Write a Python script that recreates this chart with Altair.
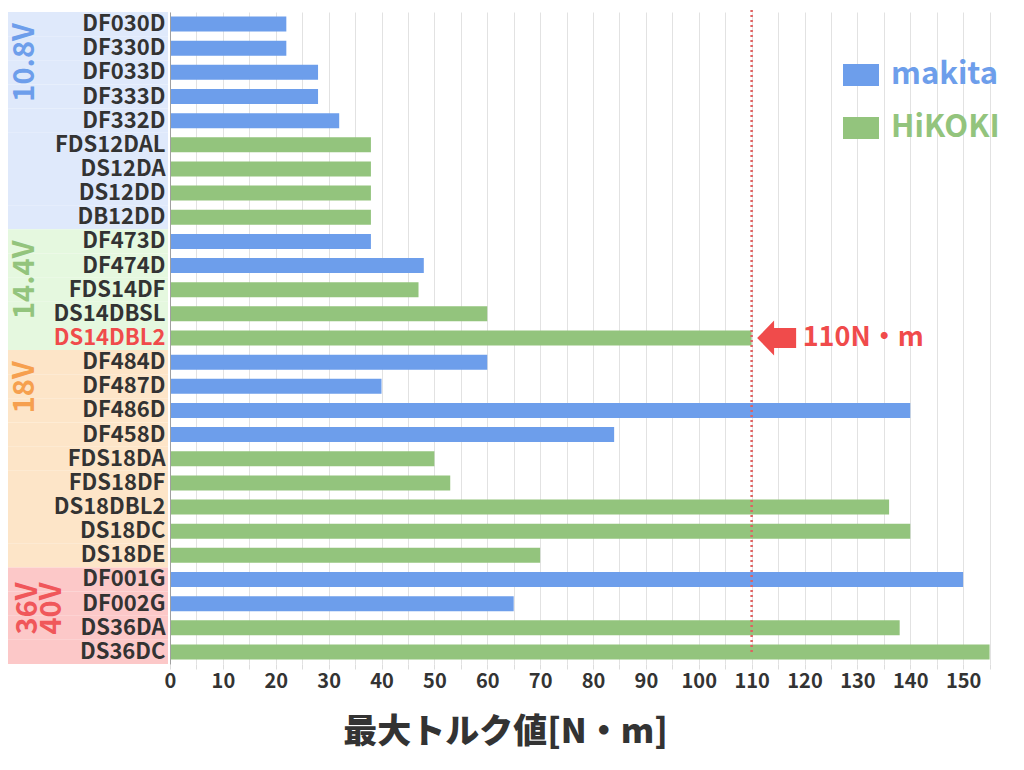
import altair as alt
import pandas as pd

models = ["DF030D", "DF330D", "DF033D", "DF333D", "DF332D", "FDS12DAL", "DS12DA", "DS12DD", "DB12DD",
          "DF473D", "DF474D", "FDS14DF", "DS14DBSL", "DS14DBL2",
          "DF484D", "DF487D", "DF486D", "DF458D", "FDS18DA", "FDS18DF", "DS18DBL2", "DS18DC", "DS18DE",
          "DF001G", "DF002G", "DS36DA", "DS36DC"]
makers = ["makita", "makita", "makita", "makita", "makita", "HiKOKI", "HiKOKI", "HiKOKI", "HiKOKI",
          "makita", "makita", "HiKOKI", "HiKOKI", "HiKOKI",
          "makita", "makita", "makita", "makita", "HiKOKI", "HiKOKI", "HiKOKI", "HiKOKI", "HiKOKI",
          "makita", "makita", "HiKOKI", "HiKOKI"]
torque = [22, 22, 28, 28, 32, 38, 38, 38, 38,
          38, 48, 47, 60, 110,
          60, 40, 140, 84, 50, 53, 136, 140, 70,
          150, 65, 138, 155]
voltage = ["10.8V", "10.8V", "10.8V", "10.8V", "10.8V", "10.8V", "10.8V", "10.8V", "10.8V",
           "14.4V", "14.4V", "14.4V", "14.4V", "14.4V",
           "18V", "18V", "18V", "18V", "18V", "18V", "18V", "18V", "18V",
           "36V\n40V", "36V\n40V", "36V\n40V", "36V\n40V"]

group_names = ["10.8V", "14.4V", "18V", "36V\n40V"]
group_bg = ["#dfe9fb", "#e5f8df", "#fde5c8", "#fcc8c8"]
group_fg = ["#6d9eeb", "#93c47d", "#f6a04f", "#f0575a"]
maker_names = ["makita", "HiKOKI"]
maker_colors = ["#6d9eeb", "#93c47d"]

highlight_model = "DS14DBL2"
ref_value = 110
ref_label = "110N・m"
tick_values = [0, 5, 10, 15, 20, 25, 30, 35, 40, 45, 50, 55, 60, 65, 70, 75, 80,
               85, 90, 95, 100, 105, 110, 115, 120, 125, 130, 135, 140, 145, 150, 155, 160]

FONT = "Noto Sans CJK JP"
RED = "#f04b4b"

df = pd.DataFrame({"model": models, "maker": makers, "torque": torque, "vgroup": voltage})
gdf = df.groupby("vgroup", sort=False).first().reset_index()[["vgroup", "model"]]
gdf = gdf.rename(columns={"vgroup": "glabel"})
ref_df = pd.DataFrame({"torque": [ref_value], "model": [highlight_model], "label": [ref_label]})

y_axis = alt.Axis(
    title=None, labelFont=FONT, labelFontSize=22, labelFontWeight="bold",
    labelColor={"condition": {"test": f"datum.value == '{highlight_model}'", "value": RED}, "value": "#333333"},
    labelPadding=5, ticks=False, domain=True, domainColor="#a0a0a0", domainWidth=1,
    grid=False, labelLimit=0,
)
y_scale = alt.Scale(domain=models, paddingInner=0, paddingOuter=0)
y_enc = alt.Y("model:N", sort=models, scale=y_scale, axis=y_axis, title=None)

x_axis = alt.Axis(
    values=tick_values,
    labelExpr="datum.value % 10 == 0 && datum.value <= 150 ? datum.label : ''",
    labelFont=FONT, labelFontSize=20, labelFontWeight="bold", labelColor="#333333",
    labelPadding=2, labelOverlap=False, labelFlush=False,
    grid=True, gridColor="#e2e2e2", gridWidth=1,
    domain=False, ticks=True, tickColor="#dddddd", tickSize=5,
    title="最大トルク値[N・m]", titleFont=FONT, titleFontSize=34, titleFontWeight=900,
    titleColor="#333333", titleX=335, titleY=68, titleBaseline="middle", titleAlign="center",
    titleAnchor="start",
)
x_scale = alt.Scale(domain=[0, 160], nice=False)
x_enc = alt.X("torque:Q", scale=x_scale, axis=x_axis, title="最大トルク値[N・m]")

base = alt.Chart(df)

bg = base.mark_rect().encode(
    x=alt.value(-162), x2=alt.value(-2), y=y_enc,
    color=alt.Color("vgroup:N", scale=alt.Scale(domain=group_names, range=group_bg), legend=None),
)

bars = base.mark_bar(size=15).encode(
    x=x_enc, y=y_enc,
    color=alt.Color(
        "maker:N",
        scale=alt.Scale(domain=maker_names, range=maker_colors),
        legend=alt.Legend(
            title=None, orient="none", legendX=673, legendY=45,
            symbolType="M-1,-0.61L1,-0.61L1,0.61L-1,0.61Z", symbolSize=1296,
            symbolStrokeWidth=0, symbolOpacity=1,
            labelFont=FONT, labelFontSize=31, labelFontWeight="bold",
            labelColor=alt.expr("datum.label == 'makita' ? '#6d9eeb' : '#93c47d'"),
            labelOffset=12, rowPadding=20,
        ),
    ),
)

y_top = alt.Y("model:N", sort=models, scale=y_scale, axis=y_axis, title=None, bandPosition=0)
glabel_scale = alt.Scale(domain=group_names, range=group_fg)

gl_single = alt.Chart(gdf).transform_filter(
    "indexof(datum.glabel, '\\n') < 0"
).mark_text(
    angle=270, align="right", baseline="middle", font=FONT, fontSize=29,
    fontWeight="bold", dx=-11,
).encode(
    x=alt.value(-145), y=y_top, text="glabel:N",
    color=alt.Color("glabel:N", scale=glabel_scale, legend=None),
)

gl_multi = alt.Chart(gdf).transform_filter(
    "indexof(datum.glabel, '\\n') >= 0"
).mark_text(
    angle=270, align="right", baseline="middle", font=FONT, fontSize=29,
    fontWeight="bold", dx=-15, lineBreak="\n", lineHeight=24,
).encode(
    x=alt.value(-142), y=y_top, text="glabel:N",
    color=alt.Color("glabel:N", scale=glabel_scale, legend=None),
)

rule = alt.Chart(ref_df).mark_rule(color="#e06060", strokeDash=[2, 3], strokeWidth=2.5).encode(
    x=x_enc, y=alt.value(-12), y2=alt.value(641),
)

arrow = alt.Chart(ref_df).mark_point(
    shape="M-1,0L-0.13,-0.9L-0.13,-0.51L1,-0.51L1,0.51L-0.13,0.51L-0.13,0.9Z",
    size=1521, filled=True, color=RED, opacity=1, xOffset=25,
).encode(x=x_enc, y=y_enc)

ref_text = alt.Chart(ref_df).mark_text(
    align="left", baseline="middle", dx=51, font=FONT, fontSize=27,
    fontWeight="bold", color=RED,
).encode(x=x_enc, y=y_enc, text="label:N")

chart = alt.layer(bg, bars, gl_single, gl_multi, rule, arrow, ref_text).resolve_scale(
    color="independent"
).properties(
    width=846, height=652, autosize="none",
    padding={"left": 162, "top": 4, "right": 0, "bottom": 96},
).configure_view(stroke=None)

chart.save("out.html", embed_options={"renderer": "svg", "actions": False})
